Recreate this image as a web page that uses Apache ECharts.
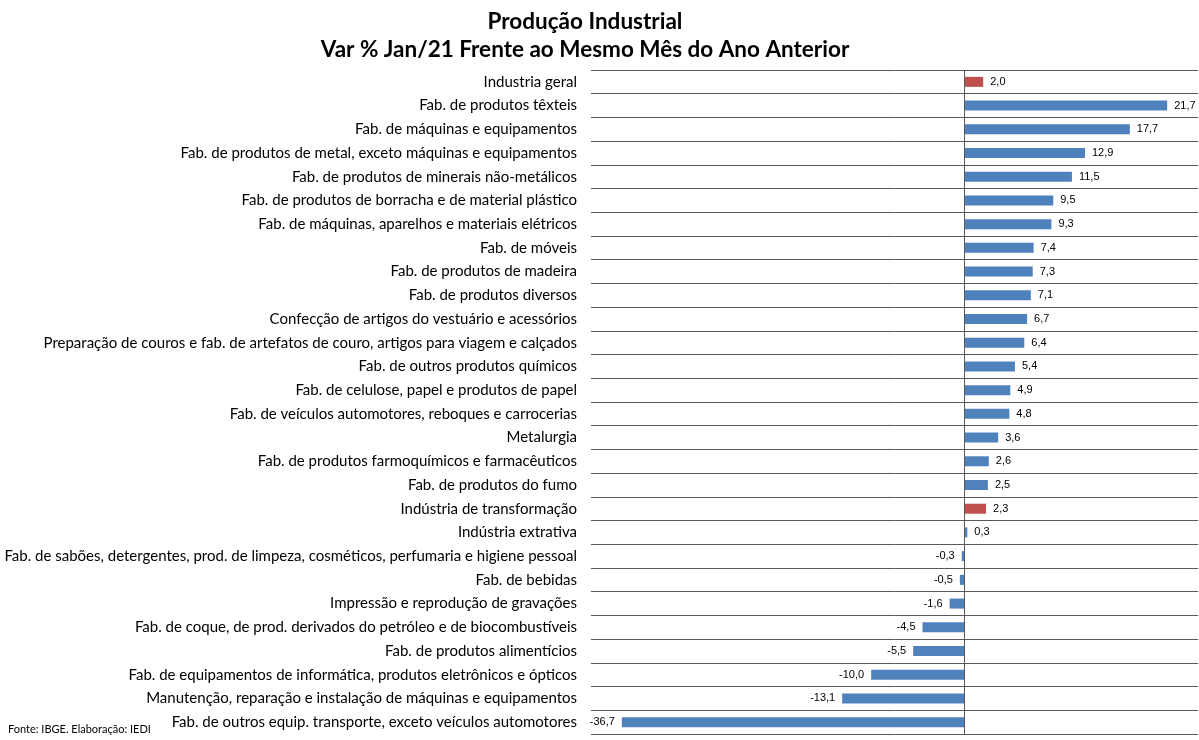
<!DOCTYPE html>
<html><head><meta charset="utf-8">
<script src="https://cdn.jsdelivr.net/npm/echarts@6/dist/echarts.min.js"></script>
<style>html,body{margin:0;padding:0;background:#fff}#c{width:1199px;height:740px}</style>
</head><body><div id="c"></div>
<script>
const categories = [
"Industria geral",
"Fab. de produtos têxteis",
"Fab. de máquinas e equipamentos",
"Fab. de produtos de metal, exceto máquinas e equipamentos",
"Fab. de produtos de minerais não-metálicos",
"Fab. de produtos de borracha e de material plástico",
"Fab. de máquinas, aparelhos e materiais elétricos",
"Fab. de móveis",
"Fab. de produtos de madeira",
"Fab. de produtos diversos",
"Confecção de artigos do vestuário e acessórios",
"Preparação de couros e fab. de artefatos de couro, artigos para viagem e calçados",
"Fab. de outros produtos químicos",
"Fab. de celulose, papel e produtos de papel",
"Fab. de veículos automotores, reboques e carrocerias",
"Metalurgia",
"Fab. de produtos farmoquímicos e farmacêuticos",
"Fab. de produtos do fumo",
"Indústria de transformação",
"Indústria extrativa",
"Fab. de sabões, detergentes, prod. de limpeza, cosméticos, perfumaria e higiene pessoal",
"Fab. de bebidas",
"Impressão e reprodução de gravações",
"Fab. de coque, de prod. derivados do petróleo e de biocombustíveis",
"Fab. de produtos alimentícios",
"Fab. de equipamentos de informática, produtos eletrônicos e ópticos",
"Manutenção, reparação e instalação de máquinas e equipamentos",
"Fab. de outros equip. transporte, exceto veículos automotores"
];
const values = [2.0,21.7,17.7,12.9,11.5,9.5,9.3,7.4,7.3,7.1,6.7,6.4,5.4,4.9,4.8,3.6,2.6,2.5,2.3,0.3,-0.3,-0.5,-1.6,-4.5,-5.5,-10.0,-13.1,-36.7];
const highlighted = ["Industria geral","Indústria de transformação"];
const titleLines = ["Produção Industrial","Var % Jan/21 Frente ao Mesmo Mês do Ano Anterior"];
const sourceNote = "Fonte: IBGE. Elaboração: IEDI";

const BLUE = "#4F81BD", RED = "#C0504D";
const data = values.map((v,i)=>({
  value: v,
  itemStyle: {color: highlighted.includes(categories[i]) ? RED : BLUE},
  label: {position: v >= 0 ? 'right' : 'left'}
}));

const chart = echarts.init(document.getElementById('c'), null, {renderer:'canvas'});
chart.setOption({
  animation:false,
  backgroundColor:'#fff',
  title:[
    {text: titleLines[0]+"\n"+titleLines[1], left:580, top:3, textAlign:'center',
     textStyle:{fontFamily:'Lato', fontWeight:'bold', fontSize:22.5, lineHeight:28, color:'#000'}},
    {text: sourceNote, left:3, top:719,
     textStyle:{fontFamily:'Lato', fontWeight:'normal', fontSize:11, color:'#000'}}
  ],
  grid:{left:591, right:1, top:70, bottom:6, containLabel:false},
  xAxis:{type:'value', min:-40, max:25, show:false},
  yAxis:{type:'category', inverse:true, data:categories,
    axisLine:{show:false}, axisTick:{show:false},
    axisLabel:{margin:14, fontFamily:'Lato', fontSize:15, color:'#000'},
    splitLine:{show:true, lineStyle:{color:'#595959', width:1}}
  },
  series:[{
    type:'bar', data:data, barWidth:10,
    label:{show:true, distance:7, fontFamily:'Liberation Sans', fontSize:11, color:'#000',
      formatter:p=>p.value.toFixed(1).replace('.',',')},
    markLine:{silent:true, symbol:'none', label:{show:false},
      lineStyle:{color:'#595959', width:1, type:'solid'},
      data:[{xAxis:0}]}
  }]
});
</script></body></html>
